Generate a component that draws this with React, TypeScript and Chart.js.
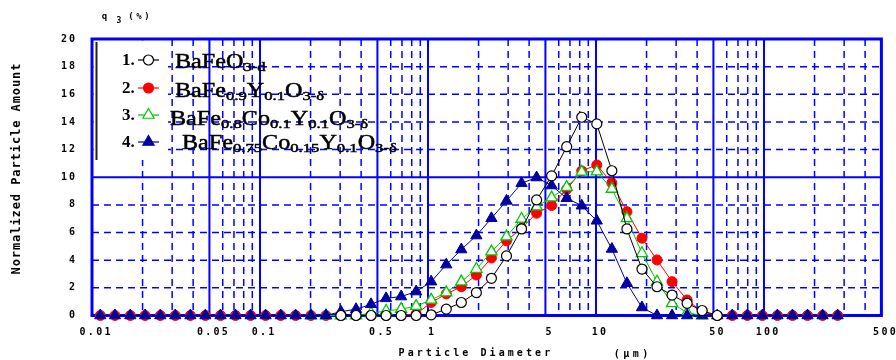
import React, { useEffect, useRef } from 'react';
import { Chart, registerables } from 'chart.js';

Chart.register(...registerables);

// Particle diameters (μm) of the measurement channels
const diameters = [
  0.0112, 0.0137, 0.0169, 0.0207, 0.0255, 0.0313, 0.0385, 0.0473, 0.0582, 0.0715,
  0.0879, 0.108, 0.133, 0.163, 0.201, 0.247, 0.303, 0.373, 0.458, 0.563,
  0.692, 0.85, 1.045, 1.285, 1.579, 1.941, 2.386, 2.933, 3.605, 4.431,
  5.445, 6.693, 8.227, 10.11, 12.43, 15.28, 18.78, 23.08, 28.37, 34.87,
  42.85, 52.67, 64.74, 79.58, 97.81, 120.2, 147.8, 181.6, 223.3, 274.4,
];

// 1. BaFeO3-d (black open circles)
const seriesBaFeO3 = [
  null, null, null, null, null, null, null, null, null, null,
  null, null, null, null, null, null, 0, 0, 0, 0,
  0, 0, 0.05, 0.46, 0.94, 1.66, 2.69, 4.31, 6.26, 8.36,
  10.1, 12.21, 14.34, 13.86, 10.47, 6.26, 3.36, 2.08, 1.48, 0.88,
  0.36, 0, null, null, null, null, null, null, null, null,
];

// 2. BaFe0.9Y0.1O3-δ (red filled circles)
const seriesBaFeY = [
  0, 0, 0, 0, 0, 0, 0, 0, 0, 0,
  0, 0, 0, 0, 0, 0, 0, 0, 0, 0,
  0, 0.1, 0.94, 1.56, 2.08, 2.93, 4.16, 5.4, 6.31, 7.4,
  7.96, 9.13, 10.46, 10.89, 9.59, 7.51, 5.59, 4.02, 2.45, 1.12,
  0.27, 0, 0, 0, 0, 0, 0, 0, 0, 0,
];

// 3. BaFe0.8Co0.1Y0.1O3-δ (green open triangles)
const seriesBaFeCoY = [
  null, null, null, null, null, null, null, null, null, null,
  null, null, null, null, 0, 0, 0, 0, 0.16, 0.33,
  0.46, 0.68, 1.13, 1.66, 2.45, 3.36, 4.62, 5.71, 6.98, 7.88,
  8.53, 9.29, 10.39, 10.41, 9.15, 7.03, 4.5, 2.44, 0.88, 0.2,
  0, null, null, null, null, null, null, null, null, null,
];

// 4. BaFe0.75Co0.15Y0.1O3-δ (blue filled triangles)
const seriesBaFeCo15Y = [
  0, 0, 0, 0, 0, 0, 0, 0, 0, 0,
  0, 0, 0, 0, 0, 0, 0.28, 0.45, 0.81, 1.24,
  1.37, 1.73, 2.45, 3.68, 4.77, 5.78, 7.03, 8.29, 9.57, 9.98,
  9.4, 8.48, 7.94, 6.85, 4.81, 2.33, 0.58, 0, 0, 0,
  0, 0, 0, 0, 0, 0, 0, 0, 0, 0,
];

const xTickValues = [0.01, 0.05, 0.1, 0.5, 1, 5, 10, 50, 100, 500];
const xTickLabels = ['0.01', '0.05', '0.1', '0.5', '1', '5', '10', '50', '100', '500'];
const yTickValues = [0, 2, 4, 6, 8, 10, 12, 14, 16, 18, 20];
const yTickLabels = ['0', '2', '4', '6', '8', '10', '12', '14', '16', '18', '20'];

const legendNumbers = ['1.', '2.', '3.', '4.'];
// [text, isSubscript]
const legendFormulas: [string, boolean][][] = [
  [['BaFeO', false], ['3-d', true]],
  [['BaFe', false], ['0.9', true], ['Y', false], ['0.1', true], ['O', false], ['3-δ', true]],
  [['BaFe', false], ['0.8', true], ['Co', false], ['0.1', true], ['Y', false], ['0.1', true], ['O', false], ['3-δ', true]],
  [['BaFe', false], ['0.75', true], ['Co', false], ['0.15', true], ['Y', false], ['0.1', true], ['O', false], ['3-δ', true]],
];

const yTitle = 'Normalized Particle Amount';
const xTitle = 'Particle Diameter';
const xUnit = '(μm)';

const GRID = '#0000ff';
const MONO = '"DejaVu Sans Mono", monospace';

function drawMono(ctx: CanvasRenderingContext2D, text: string, x: number, y: number, adv: number) {
  ctx.textAlign = 'center';
  for (let i = 0; i < text.length; i++) {
    ctx.fillText(text[i], x + i * adv + adv / 2, y);
  }
}

function drawMarker(ctx: CanvasRenderingContext2D, style: string, x: number, y: number, r: number, fill: string, stroke: string) {
  ctx.beginPath();
  if (style === 'circle') {
    ctx.arc(x, y, r, 0, Math.PI * 2);
  } else {
    let rad = 0;
    ctx.moveTo(x + Math.sin(rad) * r, y - Math.cos(rad) * r);
    rad += (2 * Math.PI) / 3;
    ctx.lineTo(x + Math.sin(rad) * r, y - Math.cos(rad) * r);
    rad += (2 * Math.PI) / 3;
    ctx.lineTo(x + Math.sin(rad) * r, y - Math.cos(rad) * r);
    ctx.closePath();
  }
  ctx.fillStyle = fill;
  ctx.fill();
  ctx.strokeStyle = stroke;
  ctx.lineWidth = 1.2;
  ctx.stroke();
}

const legendStyles = [
  { color: '#000000', style: 'circle', fill: '#ffffff', r: 5 },
  { color: '#ff0000', style: 'circle', fill: '#ff0000', r: 5 },
  { color: '#00c800', style: 'triangle', fill: '#ffffff', r: 6.5 },
  { color: '#0000a0', style: 'triangle', fill: '#0000a0', r: 6.5 },
];

const decor = {
  id: 'decor',
  beforeDraw(chart: any) {
    const { ctx, width, height } = chart;
    ctx.save();
    ctx.fillStyle = '#ffffff';
    ctx.fillRect(0, 0, width, height);
    ctx.restore();
  },
  beforeDatasetsDraw(chart: any) {
    const ctx: CanvasRenderingContext2D = chart.ctx;
    const xs = chart.scales.x;
    const ys = chart.scales.y;
    const { left, right, top, bottom } = chart.chartArea;
    ctx.save();
    ctx.strokeStyle = GRID;
    // vertical grid lines at 1..9 x 10^n
    for (let e = -2; e <= 2; e++) {
      for (let m = 1; m <= 9; m++) {
        const v = m * Math.pow(10, e);
        if (v <= 0.0100001 || v >= 499.999) continue;
        const px = xs.getPixelForValue(v);
        const major = m === 1 || m === 5;
        ctx.beginPath();
        ctx.setLineDash(major ? [] : [7, 5]);
        ctx.lineWidth = major ? 2 : 1.5;
        ctx.moveTo(px, top);
        ctx.lineTo(px, bottom);
        ctx.stroke();
      }
    }
    for (const v of yTickValues) {
      if (v === 0 || v === 20) continue;
      const py = ys.getPixelForValue(v);
      const major = v === 10;
      ctx.beginPath();
      ctx.setLineDash(major ? [] : [7, 5]);
      ctx.lineWidth = major ? 2 : 1.5;
      ctx.moveTo(left, py);
      ctx.lineTo(right, py);
      ctx.stroke();
    }
    ctx.setLineDash([]);
    // legend box (white) with dark left rule
    ctx.fillStyle = '#ffffff';
    ctx.fillRect(left + 1.5, top + 1.5, 168 - left - 1.5, 160 - top - 1.5);
    ctx.fillStyle = '#222222';
    ctx.fillRect(95.5, top + 3, 2, 160 - top - 3);
    // frame
    ctx.strokeStyle = GRID;
    ctx.lineWidth = 3;
    ctx.strokeRect(left, top, right - left, bottom - top);
    ctx.restore();
  },
  afterDatasetsDraw(chart: any) {
    const ctx: CanvasRenderingContext2D = chart.ctx;
    const xs = chart.scales.x;
    const ys = chart.scales.y;
    ctx.save();
    ctx.fillStyle = '#000';
    ctx.textBaseline = 'middle';
    // tick labels
    ctx.font = `bold 10px ${MONO}`;
    xTickValues.forEach((v, i) => {
      const t = xTickLabels[i];
      const px = xs.getPixelForValue(v);
      const adv = 8.3;
      drawMono(ctx, t, px + 3 - (t.length * adv) / 2, 332, adv);
    });
    yTickValues.forEach((v, i) => {
      const t = yTickLabels[i];
      const py = ys.getPixelForValue(v);
      drawMono(ctx, t, 76 - t.length * 8, py, 8);
    });
    // axis titles
    ctx.font = `bold 10px ${MONO}`;
    drawMono(ctx, xTitle, 397, 353, 9.1);
    drawMono(ctx, xUnit, 612, 354, 9.5);
    ctx.save();
    ctx.translate(17, 169);
    ctx.rotate(-Math.PI / 2);
    ctx.font = `bold 12px ${MONO}`;
    drawMono(ctx, yTitle, -(yTitle.length * 8.15) / 2, 0, 8.15);
    ctx.restore();
    // q3(%)
    ctx.font = `bold 9px ${MONO}`;
    drawMono(ctx, 'q', 101, 17, 7);
    ctx.font = `bold 8px ${MONO}`;
    drawMono(ctx, '3', 116, 21, 6);
    ctx.font = `bold 9px ${MONO}`;
    drawMono(ctx, '(%)', 127, 17, 8);

    // legend
    const centers = [60, 88, 115, 142];
    const baselines = [68, 97, 125, 149];
    const starts = [175, 175, 170, 182];
    legendStyles.forEach((s, i) => {
      const cy = centers[i];
      ctx.textBaseline = 'middle';
      ctx.textAlign = 'left';
      ctx.fillStyle = '#000';
      ctx.font = 'bold 17px "Liberation Serif", serif';
      ctx.fillText(legendNumbers[i], 122, cy + 1);
      ctx.strokeStyle = s.color;
      ctx.lineWidth = 1.2;
      ctx.beginPath();
      ctx.moveTo(138, cy);
      ctx.lineTo(159, cy);
      ctx.stroke();
      drawMarker(ctx, s.style, 148.5, cy, s.r, s.fill, s.color);
      // formula
      let x = starts[i];
      ctx.textBaseline = 'alphabetic';
      ctx.textAlign = 'left';
      ctx.fillStyle = '#000';
      ctx.strokeStyle = '#000';
      ctx.lineWidth = 0.5;
      for (const [txt, sub] of legendFormulas[i]) {
        ctx.font = sub ? '13px "Liberation Serif", serif' : '21px "Liberation Serif", serif';
        const sx = sub ? 1.28 : 1.15;
        const w = ctx.measureText(txt).width * sx;
        ctx.save();
        ctx.translate(x, baselines[i] + (sub ? 3 : 0));
        ctx.scale(sx, 1);
        ctx.fillText(txt, 0, 0);
        ctx.strokeText(txt, 0, 0);
        ctx.restore();
        x += w;
      }
    });
    ctx.restore();
  },
};

export default function App() {
  const ref = useRef<HTMLCanvasElement>(null);
  useEffect(() => {
    const canvas = ref.current;
    if (!canvas) return;
    const mk = (ys: (number | null)[]) =>
      diameters
        .map((d, i) => ({ x: d, y: ys[i] }))
        .filter((p) => p.y !== null) as { x: number; y: number }[];
    const chart = new Chart(canvas, {
      type: 'scatter',
      data: {
        datasets: [
          {
            label: 'BaFeO3-d',
            data: mk(seriesBaFeO3),
            showLine: true,
            borderColor: '#000000',
            borderWidth: 1,
            pointStyle: 'circle',
            pointRadius: 5,
            pointBackgroundColor: '#ffffff',
            pointBorderColor: '#000000',
            pointBorderWidth: 1.2,
            order: 0,
            clip: false,
          },
          {
            label: 'BaFe0.9Y0.1O3-δ',
            data: mk(seriesBaFeY),
            showLine: true,
            borderColor: '#ff0000',
            borderWidth: 1,
            pointStyle: 'circle',
            pointRadius: 5,
            pointBackgroundColor: '#ff0000',
            pointBorderColor: '#ff0000',
            pointBorderWidth: 1,
            order: 3,
            clip: false,
          },
          {
            label: 'BaFe0.8Co0.1Y0.1O3-δ',
            data: mk(seriesBaFeCoY),
            showLine: true,
            borderColor: '#00c800',
            borderWidth: 1,
            pointStyle: 'triangle',
            pointRadius: 6.5,
            pointBackgroundColor: '#ffffff',
            pointBorderColor: '#00c800',
            pointBorderWidth: 1.3,
            order: 2,
            clip: false,
          },
          {
            label: 'BaFe0.75Co0.15Y0.1O3-δ',
            data: mk(seriesBaFeCo15Y),
            showLine: true,
            borderColor: '#000099',
            borderWidth: 1,
            pointStyle: 'triangle',
            pointRadius: 6.5,
            pointBackgroundColor: '#0000a0',
            pointBorderColor: '#0000a0',
            pointBorderWidth: 1,
            order: 1,
            clip: false,
          },
        ],
      },
      options: {
        responsive: false,
        animation: false,
        events: [],
        layout: { padding: { left: 92, right: 14.6, top: 39, bottom: 44.5 } },
        plugins: { legend: { display: false }, tooltip: { enabled: false } },
        scales: {
          x: { type: 'logarithmic', min: 0.01, max: 500, display: false },
          y: { type: 'linear', min: 0, max: 20, display: false },
        },
      },
      plugins: [decor],
    } as any);
    return () => chart.destroy();
  }, []);
  return (
    <div style={{ position: 'absolute', left: 0, top: 0, width: 896, height: 360, background: '#fff' }}>
      <canvas ref={ref} width={896} height={360} style={{ display: 'block', width: 896, height: 360 }} />
    </div>
  );
}
